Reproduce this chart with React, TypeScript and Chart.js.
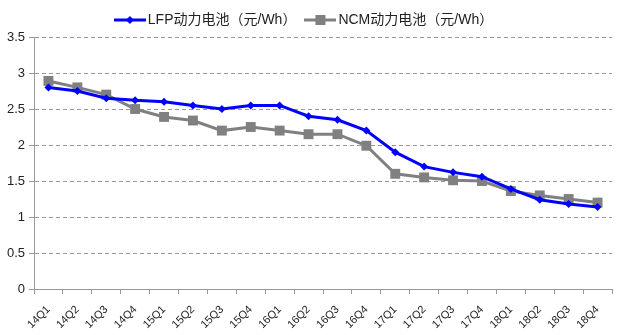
import React, { useEffect, useRef } from "react";
import { Chart, registerables } from "chart.js";

Chart.register(...registerables);

const categories = ["14Q1","14Q2","14Q3","14Q4","15Q1","15Q2","15Q3","15Q4","16Q1","16Q2","16Q3","16Q4","17Q1","17Q2","17Q3","17Q4","18Q1","18Q2","18Q3","18Q4"];
const lfpValues = [2.8, 2.75, 2.65, 2.62, 2.6, 2.55, 2.5, 2.55, 2.55, 2.4, 2.35, 2.2, 1.9, 1.7, 1.62, 1.56, 1.39, 1.24, 1.18, 1.14];
const ncmValues = [2.89, 2.8, 2.7, 2.5, 2.39, 2.34, 2.2, 2.25, 2.2, 2.15, 2.15, 1.99, 1.6, 1.55, 1.51, 1.5, 1.36, 1.3, 1.25, 1.2];
const seriesNames = ["LFP动力电池（元/Wh）", "NCM动力电池（元/Wh）"];
const yTicks = [0, 0.5, 1, 1.5, 2, 2.5, 3, 3.5];

const BLUE = "#0000ff";
const GRAY = "#808080";
const FONT = "'Liberation Sans', Arial, 'Noto Sans CJK SC', sans-serif";

function legendIcon(color: string, style: "diamond" | "square") {
  const c = document.createElement("canvas");
  c.width = 32;
  c.height = 12;
  const ctx = c.getContext("2d")!;
  ctx.strokeStyle = color;
  ctx.lineWidth = 3;
  ctx.beginPath();
  ctx.moveTo(0, 6);
  ctx.lineTo(32, 6);
  ctx.stroke();
  ctx.fillStyle = color;
  if (style === "square") {
    ctx.fillRect(11, 1, 10, 10);
  } else {
    ctx.beginPath();
    ctx.moveTo(16, 2);
    ctx.lineTo(20, 6);
    ctx.lineTo(16, 10);
    ctx.lineTo(12, 6);
    ctx.closePath();
    ctx.fill();
  }
  return c;
}

export default function App() {
  const ref = useRef<HTMLCanvasElement>(null);
  useEffect(() => {
    document.body.style.margin = "0";
    const icons = [legendIcon(BLUE, "diamond"), legendIcon(GRAY, "square")];
    const chart = new Chart(ref.current!, {
      type: "line",
      data: {
        labels: categories,
        datasets: [
          {
            label: seriesNames[0],
            data: lfpValues,
            borderColor: BLUE,
            backgroundColor: BLUE,
            borderWidth: 3,
            pointStyle: "rectRot",
            pointRadius: 4,
            pointBorderWidth: 0,
            tension: 0,
            order: 1,
          },
          {
            label: seriesNames[1],
            data: ncmValues,
            borderColor: GRAY,
            backgroundColor: GRAY,
            borderWidth: 3,
            pointStyle: "rect",
            pointRadius: 7,
            pointBorderWidth: 0,
            tension: 0,
            order: 2,
          },
        ],
      },
      options: {
        animation: false,
        responsive: false,
        layout: { padding: { left: 0, right: 16, top: 0, bottom: 0 } },
        plugins: {
          tooltip: { enabled: false },
          legend: {
            position: "top",
            labels: {
              usePointStyle: true,
              pointStyleWidth: 22,
              boxHeight: 12,
              padding: 13,
              color: "#222",
              font: { family: FONT, size: 14 },
              generateLabels: (ch: any) =>
                ch.data.datasets.map((ds: any, i: number) => ({
                  text: ds.label,
                  pointStyle: icons[i],
                  fillStyle: ds.borderColor,
                  strokeStyle: ds.borderColor,
                  lineWidth: 0,
                  hidden: false,
                  datasetIndex: i,
                  fontColor: "#222",
                })),
            },
          },
        },
        scales: {
          x: {
            offset: true,
            grid: {
              offset: true,
              drawOnChartArea: false,
              drawTicks: true,
              tickLength: 5,
              color: "#999",
            },
            border: { color: "#999", width: 1 },
            ticks: {
              maxRotation: 45,
              minRotation: 45,
              autoSkip: false,
              color: "#222",
              padding: 9,
              font: { family: FONT, size: 11 },
            },
            afterFit: (s: any) => {
              s.height = 46;
            },
          },
          y: {
            min: 0,
            max: 3.5,
            afterBuildTicks: (s: any) => {
              s.ticks = yTicks.map((v) => ({ value: v }));
            },
            grid: {
              color: "#999",
              drawTicks: true,
              tickLength: 5,
            },
            border: { color: "#999", width: 1, dash: [4, 3] },
            ticks: {
              color: "#222",
              padding: 4,
              font: { family: FONT, size: 13 },
              callback: (v: any) => String(v),
            },
            afterFit: (s: any) => {
              s.width = 34;
            },
          },
        },
      },
    });
    return () => chart.destroy();
  }, []);
  return <canvas ref={ref} width={628} height={335} style={{ display: "block" }} />;
}
